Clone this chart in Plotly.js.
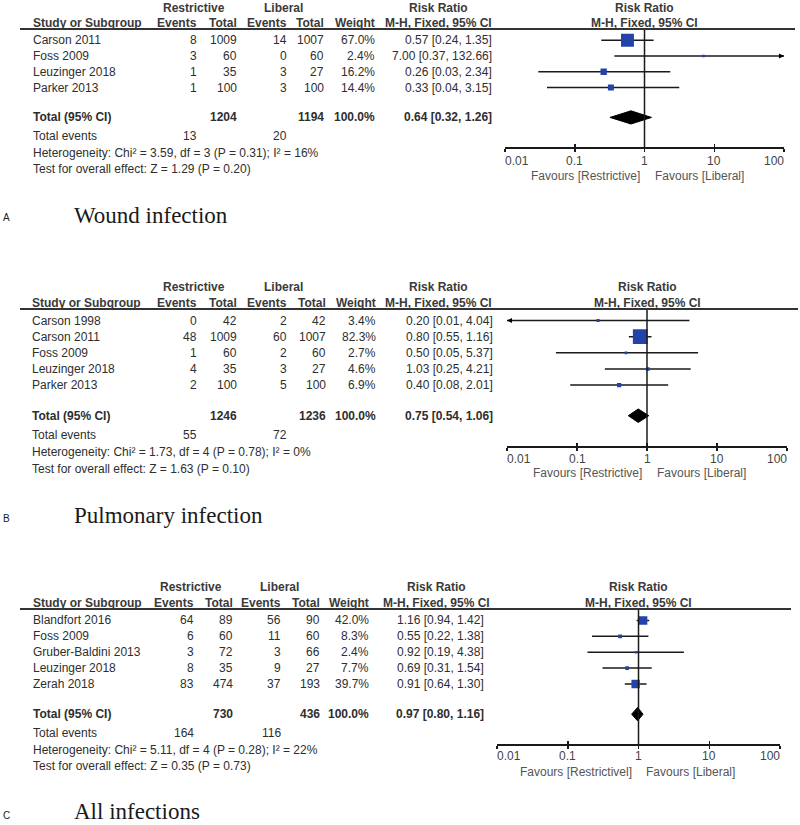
<!DOCTYPE html>
<html><head><meta charset="utf-8">
<script src="https://cdn.plot.ly/plotly-3.0.1.min.js"></script>
<style>html,body{margin:0;padding:0;background:#fff}#chart{width:800px;height:825px}</style>
</head><body><div id="chart"></div>
<script>
// ---------- Panel A: Wound infection ----------
const studiesA  = ["Carson 2011", "Foss 2009", "Leuzinger 2018", "Parker 2013"];
const evRestA   = [8, 3, 1, 1];
const totRestA  = [1009, 60, 35, 100];
const evLibA    = [14, 0, 3, 3];
const totLibA   = [1007, 60, 27, 100];
const weightA   = [67.0, 2.4, 16.2, 14.4];
const rrA       = [0.57, 7.00, 0.26, 0.33];
const loA       = [0.24, 0.37, 0.03, 0.04];
const hiA       = [1.35, 132.66, 2.34, 3.15];
const totalsA   = [1204, 1194];
const pooledA   = [0.64, 0.32, 1.26];
const totEventsA = [13, 20];
const hetA      = "Heterogeneity: Chi² = 3.59, df = 3 (P = 0.31); I² = 16%";
const testA     = "Test for overall effect: Z = 1.29 (P = 0.20)";

// ---------- Panel B: Pulmonary infection ----------
const studiesB  = ["Carson 1998", "Carson 2011", "Foss 2009", "Leuzinger 2018", "Parker 2013"];
const evRestB   = [0, 48, 1, 4, 2];
const totRestB  = [42, 1009, 60, 35, 100];
const evLibB    = [2, 60, 2, 3, 5];
const totLibB   = [42, 1007, 60, 27, 100];
const weightB   = [3.4, 82.3, 2.7, 4.6, 6.9];
const rrB       = [0.20, 0.80, 0.50, 1.03, 0.40];
const loB       = [0.01, 0.55, 0.05, 0.25, 0.08];
const hiB       = [4.04, 1.16, 5.37, 4.21, 2.01];
const totalsB   = [1246, 1236];
const pooledB   = [0.75, 0.54, 1.06];
const totEventsB = [55, 72];
const hetB      = "Heterogeneity: Chi² = 1.73, df = 4 (P = 0.78); I² = 0%";
const testB     = "Test for overall effect: Z = 1.63 (P = 0.10)";

// ---------- Panel C: All infections ----------
const studiesC  = ["Blandfort 2016", "Foss 2009", "Gruber-Baldini 2013", "Leuzinger 2018", "Zerah 2018"];
const evRestC   = [64, 6, 3, 8, 83];
const totRestC  = [89, 60, 72, 35, 474];
const evLibC    = [56, 11, 3, 9, 37];
const totLibC   = [90, 60, 66, 27, 193];
const weightC   = [42.0, 8.3, 2.4, 7.7, 39.7];
const rrC       = [1.16, 0.55, 0.92, 0.69, 0.91];
const loC       = [0.94, 0.22, 0.19, 0.31, 0.64];
const hiC       = [1.42, 1.38, 4.38, 1.54, 1.30];
const totalsC   = [730, 436];
const pooledC   = [0.97, 0.80, 1.16];
const totEventsC = [164, 116];
const hetC      = "Heterogeneity: Chi² = 5.11, df = 4 (P = 0.28); I² = 22%";
const testC     = "Test for overall effect: Z = 0.35 (P = 0.73)";

const tickVals   = [0.01, 0.1, 1, 10, 100];
const tickLabels = ["0.01", "0.1", "1", "10", "100"];
const panelTitles = ["Wound infection", "Pulmonary infection", "All infections"];
const panelLetters = ["A", "B", "C"];

// ---------- layout helpers ----------
const W = 800, H = 825;
const px = v => v / W;
const py = v => 1 - v / H;
const XMIN = 0.01, XMAX = 100;
const SANS = "Liberation Sans, Arial, sans-serif";
const SERIF = "Liberation Serif, Times New Roman, serif";
const BODY = "#2e2e2e", HEAD = "#3a3a3a", GREY = "#555555", INK = "#1a1a1a";
const BLUE = "#2443a8";

const panels = [
  { studies: studiesA, e1: evRestA, t1: totRestA, e2: evLibA, t2: totLibA, w: weightA, rr: rrA, lo: loA, hi: hiA,
    totals: totalsA, pooled: pooledA, tev: totEventsA, het: hetA, test: testA,
    xa: "x", ya: "y", xo: "x4", xd: [505, 784], yd: [29, 147], line: [20, 795], k: 1.58,
    cols: { name: 31, e1: 199, t1: 239, e2: 289, t2: 326, w: 377, rr: 494, hR: 194, hL: 283, hRR: 438 },
    fav: [-3, 8], tickShift: -14, favShift: -29, titleY: 215, letterY: 218, favText: "Favours [Restrictive]" },
  { studies: studiesB, e1: evRestB, t1: totRestB, e2: evLibB, t2: totLibB, w: weightB, rr: rrB, lo: loB, hi: hiB,
    totals: totalsB, pooled: pooledB, tev: totEventsB, het: hetB, test: testB,
    xa: "x2", ya: "y2", xo: "x5", xd: [507, 787], yd: [309, 446], line: [20, 798], k: 1.62,
    cols: { name: 30, e1: 199, t1: 239, e2: 289, t2: 328, w: 378, rr: 495, hR: 194, hL: 283, hRR: 438 },
    fav: [-3, 8], tickShift: -13, favShift: -27, titleY: 515, letterY: 518, favText: "Favours [Restrictive]" },
  { studies: studiesC, e1: evRestC, t1: totRestC, e2: evLibC, t2: totLibC, w: weightC, rr: rrC, lo: loC, hi: hiC,
    totals: totalsC, pooled: pooledC, tev: totEventsC, het: hetC, test: testC,
    xa: "x3", ya: "y3", xo: "x6", xd: [497, 780], yd: [609, 744], line: [20, 791], k: 1.32,
    cols: { name: 31, e1: 196, t1: 235, e2: 283, t2: 322, w: 371, rr: 486, hR: 191, hL: 279, hRR: 436 },
    fav: [-5, 5], tickShift: -12, favShift: -28, titleY: 811, letterY: 815, favText: "Favours [Restrictivel]" }
];

const traces = [], annotations = [], shapes = [];
const layout = {
  width: W, height: H, margin: { l: 0, r: 0, t: 0, b: 0 },
  paper_bgcolor: "#fff", plot_bgcolor: "rgba(0,0,0,0)", showlegend: false,
  font: { family: SANS, size: 12, color: BODY }
};

const fmt2 = v => v.toFixed(2);
const rrText = (r, l, h) => fmt2(r) + " [" + fmt2(l) + ", " + fmt2(h) + "]";

panels.forEach((p, pi) => {
  const n = p.studies.length;
  const rows = p.studies.map((_, i) => i);
  const totalRow = n - 1 + 1.9;
  const axisRow = totalRow + 1.88;
  const ruleRow = -0.72;
  const h1 = -2.08, h2 = -1.08;
  const evRow = totalRow + 1.2, hetRow = totalRow + 2.28, testRow = totalRow + 3.28;
  // pixel scale: header rule at yd[0], axis line at yd[1]
  const rowPx = (p.yd[1] - p.yd[0]) / (axisRow - ruleRow);
  const row0Px = p.yd[0] - ruleRow * rowPx;
  const topRow = -2.55, botRow = testRow + 0.7;
  const topPx = row0Px + topRow * rowPx, botPx = row0Px + botRow * rowPx;
  const yName = p.ya === "y" ? "yaxis" : "yaxis" + p.ya.slice(1);
  const xName = p.xa === "x" ? "xaxis" : "xaxis" + p.xa.slice(1);
  const xoName = "xaxis" + p.xo.slice(1);

  layout[xName] = {
    type: "log", range: [Math.log10(XMIN), Math.log10(XMAX)], domain: [px(p.xd[0]), px(p.xd[1])],
    anchor: "free", position: py(p.yd[1]), side: "bottom",
    tickvals: tickVals, ticks: "outside", ticklen: 3, showticklabels: false,
    tickwidth: 1.5, tickcolor: INK, showline: true, linecolor: INK, linewidth: 1.5,
    showgrid: false, zeroline: false, fixedrange: true
  };
  layout[xoName] = {
    type: "log", range: [Math.log10(XMIN), Math.log10(XMAX)], overlaying: p.xa,
    anchor: "free", position: py(p.yd[1]), side: "bottom",
    tickvals: tickVals, ticks: "inside", ticklen: 3, tickwidth: 1.5, tickcolor: INK,
    showticklabels: false, showline: false, showgrid: false, zeroline: false, fixedrange: true
  };
  layout[yName] = {
    domain: [py(botPx), Math.min(1, py(topPx))], range: [botRow, topRow],
    visible: false, fixedrange: true
  };

  // CI lines
  const cx = [], cy = [];
  p.lo.forEach((l, i) => { cx.push(l, p.hi[i], null); cy.push(i, i, null); });
  traces.push({ type: "scatter", mode: "lines", x: cx, y: cy, xaxis: p.xa, yaxis: p.ya,
    line: { color: INK, width: 1.5 }, hoverinfo: "skip" });
  // weighted squares
  traces.push({ type: "scatter", mode: "markers", x: p.rr, y: rows, xaxis: p.xa, yaxis: p.ya,
    marker: { symbol: "square", opacity: 1, size: p.w.map(w => Math.max(2.5, p.k * Math.sqrt(w))),
      color: BLUE, line: { width: 0 } }, hoverinfo: "skip" });
  // pooled diamond
  const [pr, pl, ph] = p.pooled;
  traces.push({ type: "scatter", mode: "lines", x: [pl, pr, ph, pr, pl],
    y: [totalRow, totalRow - 0.42, totalRow, totalRow + 0.42, totalRow], xaxis: p.xa, yaxis: p.ya,
    fill: "toself", fillcolor: "#000", line: { color: "#000", width: 1 }, hoverinfo: "skip" });
  // arrows for CIs running off the scale
  const ax = [], ay = [], as = [];
  p.hi.forEach((h, i) => { if (h > XMAX) { ax.push(XMAX); ay.push(i); as.push("arrow-right"); } });
  p.lo.forEach((l, i) => { if (l <= XMIN) { ax.push(XMIN); ay.push(i); as.push("arrow-left"); } });
  if (ax.length) traces.push({ type: "scatter", mode: "markers", x: ax, y: ay, xaxis: p.xa, yaxis: p.ya,
    cliponaxis: false, marker: { symbol: as, size: 5, opacity: 1, color: "#000", line: { width: 0 } }, hoverinfo: "skip" });
  // dummy for overlay axis
  traces.push({ type: "scatter", x: [], y: [], xaxis: p.xo, yaxis: p.ya, hoverinfo: "skip" });

  // line of no effect
  shapes.push({ type: "line", xref: p.xa, yref: p.ya, x0: 1, x1: 1, y0: ruleRow, y1: axisRow,
    line: { color: INK, width: 1.5 } });
  // header rule
  shapes.push({ type: "line", xref: "paper", yref: "paper", x0: px(p.line[0]), x1: px(p.line[1]),
    y0: py(p.yd[0]), y1: py(p.yd[0]), line: { color: "#333", width: 1.8 } });

  // tick labels (end labels kept inside the scale, as in the original)
  tickVals.forEach((v, ti) => annotations.push({
    text: tickLabels[ti], xref: p.xa, x: Math.log10(v),
    xanchor: ti === 0 ? "left" : (ti === tickVals.length - 1 ? "right" : "center"),
    xshift: ti === 0 ? -2 : (ti === tickVals.length - 1 ? 2 : 0),
    yref: p.ya, y: axisRow, yshift: p.tickShift, yanchor: "middle", showarrow: false,
    font: { family: SANS, size: 12, color: "#444" } }));

  const c = p.cols;
  const T = (text, x, row, anchor, bold, color) => annotations.push({
    text: bold ? "<b>" + text + "</b>" : text, xref: "paper", x: px(x), yref: p.ya, y: row,
    xanchor: anchor, yanchor: "middle", showarrow: false,
    font: { family: SANS, size: 12, color: color || BODY } });

  // headers
  T("Restrictive", c.hR, h1, "center", true, HEAD);
  T("Liberal", c.hL, h1, "center", true, HEAD);
  T("Risk Ratio", c.hRR, h1, "center", true, HEAD);
  T("Study or Subgroup", c.name, h2, "left", true, HEAD);
  T("Events", c.e1, h2, "right", true, HEAD);
  T("Total", c.t1, h2, "right", true, HEAD);
  T("Events", c.e2, h2, "right", true, HEAD);
  T("Total", c.t2, h2, "right", true, HEAD);
  T("Weight", c.w, h2, "right", true, HEAD);
  T("M-H, Fixed, 95% CI", c.hRR, h2, "center", true, HEAD);
  [["Risk Ratio", h1], ["M-H, Fixed, 95% CI", h2]].forEach(([t, r]) => annotations.push({
    text: "<b>" + t + "</b>", xref: p.xa, x: 0, yref: p.ya, y: r, xanchor: "center", yanchor: "middle",
    showarrow: false, font: { family: SANS, size: 12, color: HEAD } }));

  // study rows
  p.studies.forEach((s, i) => {
    T(s, c.name, i, "left");
    T(String(p.e1[i]), c.e1, i, "right");
    T(String(p.t1[i]), c.t1, i, "right");
    T(String(p.e2[i]), c.e2, i, "right");
    T(String(p.t2[i]), c.t2, i, "right");
    T(p.w[i].toFixed(1) + "%", c.w, i, "right");
    T(rrText(p.rr[i], p.lo[i], p.hi[i]), c.rr, i, "right");
  });
  // totals
  T("Total (95% CI)", c.name, totalRow, "left", true);
  T(String(p.totals[0]), c.t1, totalRow, "right", true);
  T(String(p.totals[1]), c.t2, totalRow, "right", true);
  T("100.0%", c.w, totalRow, "right", true);
  T(rrText(pr, pl, ph), c.rr, totalRow, "right", true);
  T("Total events", c.name, evRow, "left");
  T(String(p.tev[0]), c.e1, evRow, "right");
  T(String(p.tev[1]), c.e2, evRow, "right");
  T(p.het, c.name, hetRow, "left");
  T(p.test, c.name, testRow, "left");

  // favours labels
  annotations.push({ text: p.favText, xref: p.xa, x: 0, xanchor: "right", xshift: p.fav[0],
    yref: p.ya, y: axisRow, yshift: p.favShift, yanchor: "middle", showarrow: false,
    font: { family: SANS, size: 12, color: GREY } });
  annotations.push({ text: "Favours [Liberal]", xref: p.xa, x: 0, xanchor: "left", xshift: p.fav[1],
    yref: p.ya, y: axisRow, yshift: p.favShift, yanchor: "middle", showarrow: false,
    font: { family: SANS, size: 12, color: GREY } });

  // panel title and letter
  annotations.push({ text: panelTitles[pi], xref: "paper", x: px(72), xanchor: "left",
    yref: "paper", y: py(p.titleY), yanchor: "middle", showarrow: false,
    font: { family: SERIF, size: 23, color: "#1a1a1a" } });
  annotations.push({ text: panelLetters[pi], xref: "paper", x: px(1), xanchor: "left",
    yref: "paper", y: py(p.letterY), yanchor: "middle", showarrow: false,
    font: { family: SANS, size: 10, color: "#222" } });
});

layout.annotations = annotations;
layout.shapes = shapes;

Plotly.newPlot("chart", traces, layout, { staticPlot: true, displayModeBar: false });
</script>
</body></html>
